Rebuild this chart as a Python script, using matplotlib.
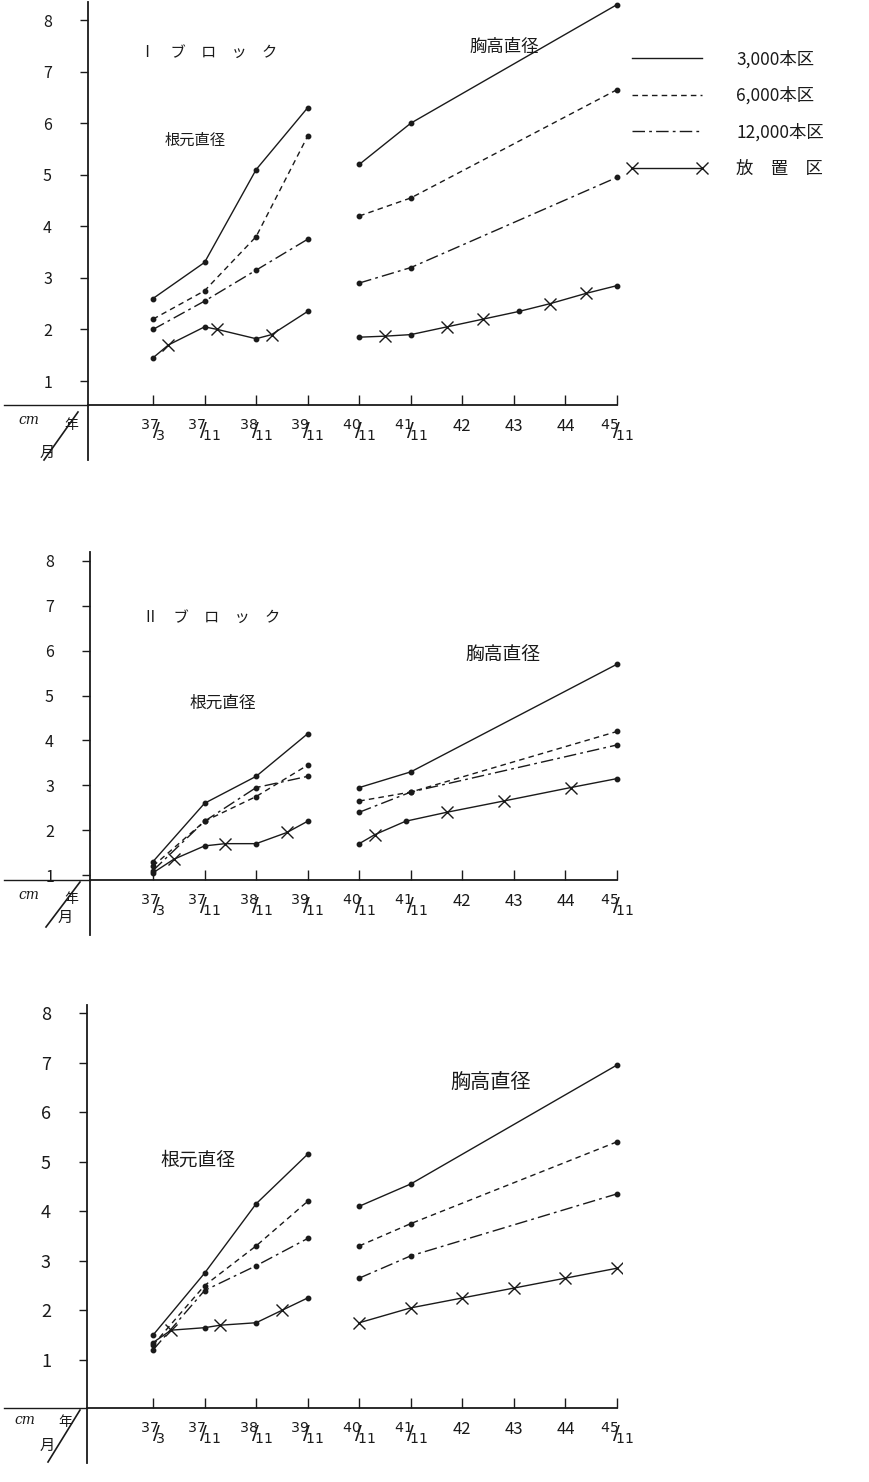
import matplotlib
matplotlib.use('Agg')
import matplotlib.pyplot as plt
from matplotlib.lines import Line2D

plt.rcParams['font.family'] = ['Noto Sans CJK JP', 'DejaVu Sans']
plt.rcParams['mathtext.fontset'] = 'dejavusans'

W, H, DPI = 870, 1482, 100
INK = '#1a1a1a'

# ---------------- data ----------------
tick_labels = ['37/3', '37/11', '38/11', '39/11', '40/11', '41/11', '42', '43', '44', '45/11']
y_ticks = [1, 2, 3, 4, 5, 6, 7, 8]
series_names = ['3,000本区', '6,000本区', '12,000本区', '放　置　区']

root_x = [0, 1, 2, 3]
breast_x = [4, 5, 9]

# Block I
p1_root_3000 = [2.6, 3.3, 5.1, 6.3]
p1_root_6000 = [2.2, 2.75, 3.8, 5.75]
p1_root_12000 = [2.0, 2.55, 3.15, 3.75]
p1_root_ctrl_x = [0, 0.3, 1, 1.25, 2, 2.3, 3]
p1_root_ctrl = [1.45, 1.7, 2.05, 2.0, 1.82, 1.9, 2.35]
p1_root_ctrl_star = [1, 3, 5]
p1_breast_3000 = [5.2, 6.0, 8.3]
p1_breast_6000 = [4.2, 4.55, 6.65]
p1_breast_12000 = [2.9, 3.2, 4.95]
p1_breast_ctrl_x = [4, 4.5, 5, 5.7, 6.4, 7.1, 7.7, 8.4, 9]
p1_breast_ctrl = [1.85, 1.87, 1.9, 2.05, 2.2, 2.35, 2.5, 2.7, 2.85]
p1_breast_ctrl_star = [1, 3, 4, 6, 7]

# Block II
p2_root_3000 = [1.3, 2.6, 3.2, 4.15]
p2_root_6000 = [1.2, 2.2, 2.75, 3.45]
p2_root_12000 = [1.1, 2.2, 2.95, 3.2]
p2_root_ctrl_x = [0, 0.4, 1, 1.4, 2, 2.6, 3]
p2_root_ctrl = [1.05, 1.35, 1.65, 1.7, 1.7, 1.95, 2.2]
p2_root_ctrl_star = [1, 3, 5]
p2_breast_3000 = [2.95, 3.3, 5.7]
p2_breast_6000 = [2.65, 2.85, 4.2]
p2_breast_12000 = [2.4, 2.85, 3.9]
p2_breast_ctrl_x = [4, 4.3, 4.9, 5.7, 6.8, 8.1, 9]
p2_breast_ctrl = [1.7, 1.9, 2.2, 2.4, 2.65, 2.95, 3.15]
p2_breast_ctrl_star = [1, 3, 4, 5]

# Block III
p3_root_3000 = [1.5, 2.75, 4.15, 5.15]
p3_root_6000 = [1.3, 2.5, 3.3, 4.2]
p3_root_12000 = [1.2, 2.4, 2.9, 3.45]
p3_root_ctrl_x = [0, 0.35, 1, 1.3, 2, 2.5, 3]
p3_root_ctrl = [1.35, 1.6, 1.65, 1.7, 1.75, 2.0, 2.25]
p3_root_ctrl_star = [1, 3, 5]
p3_breast_3000 = [4.1, 4.55, 6.95]
p3_breast_6000 = [3.3, 3.75, 5.4]
p3_breast_12000 = [2.65, 3.1, 4.35]
p3_breast_ctrl_x = [4, 5, 6, 7, 8, 9]
p3_breast_ctrl = [1.75, 2.05, 2.25, 2.45, 2.65, 2.85]
p3_breast_ctrl_star = [0, 1, 2, 3, 4, 5]

# ---------------- styles ----------------
LS = {
    '3000': dict(ls='-', lw=1.0),
    '6000': dict(ls=(0, (4, 3)), lw=1.0),
    '12000': dict(ls=(0, (9, 3, 2, 3)), lw=1.0),
    'ctrl': dict(ls='-', lw=1.0),
}

fig = plt.figure(figsize=(W / DPI, H / DPI), dpi=DPI)


def fx(px):
    return px / W


def fy(py):
    return 1 - py / H


def frac_label(s):
    if '/' in s:
        a, b = s.split('/')
        return r'$^{%s}\!\!/\!_{%s}$' % (a, b)
    return s


X0_PX, DX_PX = 153.0, 51.56


def make_panel(top, bottom, left, ylim, yfs):
    right = 622
    ax = fig.add_axes([fx(left), fy(bottom), fx(right - left), (bottom - top) / H])
    ax.set_xlim((left - X0_PX) / DX_PX, (right - X0_PX) / DX_PX)
    ax.set_ylim(*ylim)
    ax.patch.set_alpha(0)
    for s in ['top', 'right']:
        ax.spines[s].set_visible(False)
    for s in ['left', 'bottom']:
        ax.spines[s].set_color(INK)
        ax.spines[s].set_linewidth(1.3)
    ax.spines['bottom'].set_bounds(ax.get_xlim()[0], 9)
    ax.set_xticks(range(len(tick_labels)))
    ax.set_xticklabels([frac_label(t) for t in tick_labels], color=INK)
    for t, lab in zip(tick_labels, ax.get_xticklabels()):
        lab.set_fontsize(14.5 if '/' in t else 12)
        lab.set_va('top')
    ax.tick_params(axis='x', direction='in', length=7, width=1.0, pad=9, colors=INK)
    ax.set_yticks(y_ticks)
    ax.set_yticklabels([str(v) for v in y_ticks], fontsize=yfs, color=INK)
    ax.tick_params(axis='y', direction='out', length=6, width=1.0, pad=20, colors=INK)
    # extensions of the axes (left of the y axis, below the x axis)
    ppu = (bottom - top) / (ylim[1] - ylim[0])
    xl = ax.get_xlim()[0]
    ax.plot([xl - (left - 4) / DX_PX, xl], [ylim[0], ylim[0]], color=INK, lw=1.0,
            clip_on=False)
    ax.plot([xl, xl], [ylim[0], ylim[0] - 55 / ppu], color=INK, lw=1.3, clip_on=False)
    return ax


def draw_block(ax, r3, r6, r12, rcx, rc, rcs, b3, b6, b12, bcx, bc, bcs):
    kw = dict(color=INK, marker='o', ms=3.2, mfc=INK, mec=INK)
    ax.plot(root_x, r3, **LS['3000'], **kw)
    ax.plot(root_x, r6, **LS['6000'], **kw)
    ax.plot(root_x, r12, **LS['12000'], **kw)
    ax.plot(breast_x, b3, **LS['3000'], **kw)
    ax.plot(breast_x, b6, **LS['6000'], **kw)
    ax.plot(breast_x, b12, **LS['12000'], **kw)
    for xs, ys, stars in [(rcx, rc, rcs), (bcx, bc, bcs)]:
        ax.plot(xs, ys, color=INK, **LS['ctrl'])
        dots = [i for i in range(len(xs)) if i not in stars]
        ax.plot([xs[i] for i in dots], [ys[i] for i in dots], ls='none', marker='o',
                ms=3.2, color=INK)
        ax.plot([xs[i] for i in stars], [ys[i] for i in stars], ls='none', marker='x',
                ms=9, mew=1.0, color=INK)


def corner(cm_xy, nen_xy, tsuki_xy, slash):
    fig.text(fx(cm_xy[0]), fy(cm_xy[1]), 'cm', fontsize=10, style='italic',
             family=['DejaVu Serif'], color=INK, ha='left', va='center')
    fig.text(fx(nen_xy[0]), fy(nen_xy[1]), '年', fontsize=10, color=INK,
             ha='left', va='center')
    fig.text(fx(tsuki_xy[0]), fy(tsuki_xy[1]), '月', fontsize=11, color=INK,
             ha='left', va='center')
    fig.add_artist(Line2D([fx(slash[0]), fx(slash[2])], [fy(slash[1]), fy(slash[3])],
                          transform=fig.transFigure, color=INK, lw=1.2))


# Panel I
ax1 = make_panel(top=2, bottom=405, left=88, ylim=(0.535, 8.35), yfs=11.5)
draw_block(ax1, p1_root_3000, p1_root_6000, p1_root_12000, p1_root_ctrl_x, p1_root_ctrl,
           p1_root_ctrl_star, p1_breast_3000, p1_breast_6000, p1_breast_12000,
           p1_breast_ctrl_x, p1_breast_ctrl, p1_breast_ctrl_star)
corner((18, 420), (64, 425), (40, 452), (44, 460, 78, 412))
fig.text(fx(140), fy(52), 'Ⅰ　ブ　ロ　ッ　ク', fontsize=11, color=INK, va='center')
fig.text(fx(165), fy(140), '根元直径', fontsize=11, color=INK, va='center')
fig.text(fx(470), fy(47), '胸高直径', fontsize=12.5, color=INK, va='center')

# Panel II
ax2 = make_panel(top=552, bottom=880, left=90, ylim=(0.89, 8.2), yfs=11.5)
draw_block(ax2, p2_root_3000, p2_root_6000, p2_root_12000, p2_root_ctrl_x, p2_root_ctrl,
           p2_root_ctrl_star, p2_breast_3000, p2_breast_6000, p2_breast_12000,
           p2_breast_ctrl_x, p2_breast_ctrl, p2_breast_ctrl_star)
corner((18, 895), (64, 899), (58, 917), (46, 927, 80, 882))
fig.text(fx(143), fy(617), 'Ⅱ　ブ　ロ　ッ　ク', fontsize=11, color=INK, va='center')
fig.text(fx(190), fy(703), '根元直径', fontsize=12, color=INK, va='center')
fig.text(fx(465), fy(655), '胸高直径', fontsize=13.5, color=INK, va='center')

# Panel III
ax3 = make_panel(top=1005, bottom=1408, left=87, ylim=(0.03, 8.16), yfs=13)
draw_block(ax3, p3_root_3000, p3_root_6000, p3_root_12000, p3_root_ctrl_x, p3_root_ctrl,
           p3_root_ctrl_star, p3_breast_3000, p3_breast_6000, p3_breast_12000,
           p3_breast_ctrl_x, p3_breast_ctrl, p3_breast_ctrl_star)
corner((14, 1420), (58, 1422), (40, 1445), (48, 1462, 80, 1410))
fig.text(fx(160), fy(1160), '根元直径', fontsize=13.5, color=INK, va='center')
fig.text(fx(450), fy(1082), '胸高直径', fontsize=14.5, color=INK, va='center')

# Legend
handles = [
    Line2D([], [], color=INK, **LS['3000']),
    Line2D([], [], color=INK, **LS['6000']),
    Line2D([], [], color=INK, **LS['12000']),
    Line2D([], [], color=INK, marker='x', ms=9, mew=1.0, **LS['ctrl']),
]
fig.legend(handles, series_names, loc='upper left', bbox_to_anchor=(fx(620), fy(43)),
           frameon=False, fontsize=12.5, handlelength=4.6, handletextpad=1.7,
           labelspacing=1.05, numpoints=2, borderaxespad=0, labelcolor=INK)

fig.savefig('out.png', dpi=DPI, facecolor='white')
